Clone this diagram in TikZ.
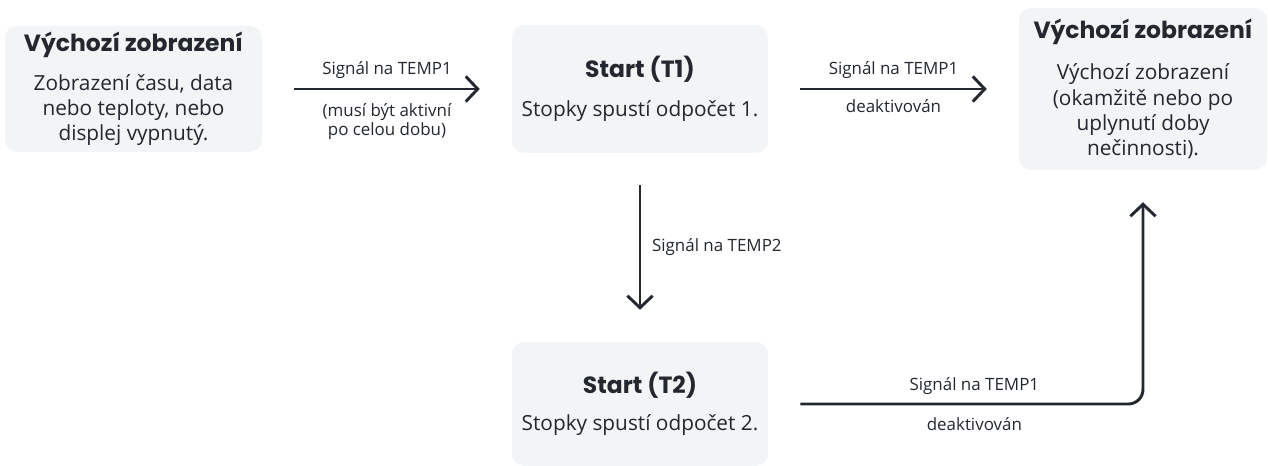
\documentclass[tikz,border=0pt]{standalone}
\usepackage{fontspec}
\setmainfont{Open Sans}
\newfontfamily\headfont{Poppins}
\usepackage{tikz}
\usetikzlibrary{arrows,arrows.meta}
\definecolor{ink}{RGB}{35,39,47}
\definecolor{boxgray}{RGB}{243,244,246}
\tikzstyle{state}=[fill=boxgray, rounded corners=9pt, align=center, text=ink, inner sep=0pt, font=\fontsize{15.6}{19}\selectfont]
\tikzstyle{flow}=[draw=ink, line width=2.2pt, -{Straight Barb[length=9pt,width=19pt]}, shorten <=24pt, shorten >=24pt]
\tikzstyle{lbl}=[text=ink, align=center, inner sep=2pt, font=\fontsize{12.7}{14.3}\selectfont]
\newcommand{\boxtitle}[1]{{\headfont\bfseries\fontsize{17.6}{20}\selectfont #1}}

\begin{document}
\begin{tikzpicture}[x=0.75pt,y=-0.75pt]
\useasboundingbox (0,0) rectangle (1268,466);
% states
\node[state, minimum width=192.75pt, minimum height=94.5pt] (idle) at (133.5,89)
  {\boxtitle{Výchozí zobrazení}\\[10pt]Zobrazení času, data\\nebo teploty, nebo\\displej vypnutý.};
\node[state, minimum width=192pt, minimum height=96pt] (tone) at (640,89)
  {\boxtitle{Start (T1)}\\[10pt]Stopky spustí odpočet 1.};
\node[state, minimum width=186pt, minimum height=121.5pt] (back) at (1143,89)
  {\boxtitle{Výchozí zobrazení}\\[12pt]Výchozí zobrazení\\(okamžitě nebo po\\uplynutí doby\\nečinnosti).};
\node[state, minimum width=192pt, minimum height=93pt] (ttwo) at (640,404)
  {\boxtitle{Start (T2)}\\[9pt]Stopky spustí odpočet 2.};
% transitions
\draw[flow] (idle.east) -- (idle.east -| tone.west)
  node[lbl, midway, above=5pt] {Signál na TEMP1}
  node[lbl, midway, below=8pt] {(musí být aktivní\\po celou dobu)};
\draw[flow] (tone.east) -- (tone.east -| back.west)
  node[lbl, midway, above=5pt] {Signál na TEMP1}
  node[lbl, midway, below=5pt] {deaktivován};
\draw[flow] (tone.south) -- (ttwo.north)
  node[lbl, midway, right=6pt] {Signál na TEMP2};
\draw[flow, rounded corners=11pt] (ttwo.east) --
  node[lbl, pos=0.55, above=4pt] {Signál na TEMP1}
  node[lbl, pos=0.55, below=7pt] {deaktivován} (back.south |- ttwo.east) -- (back.south);
\end{tikzpicture}
\end{document}
